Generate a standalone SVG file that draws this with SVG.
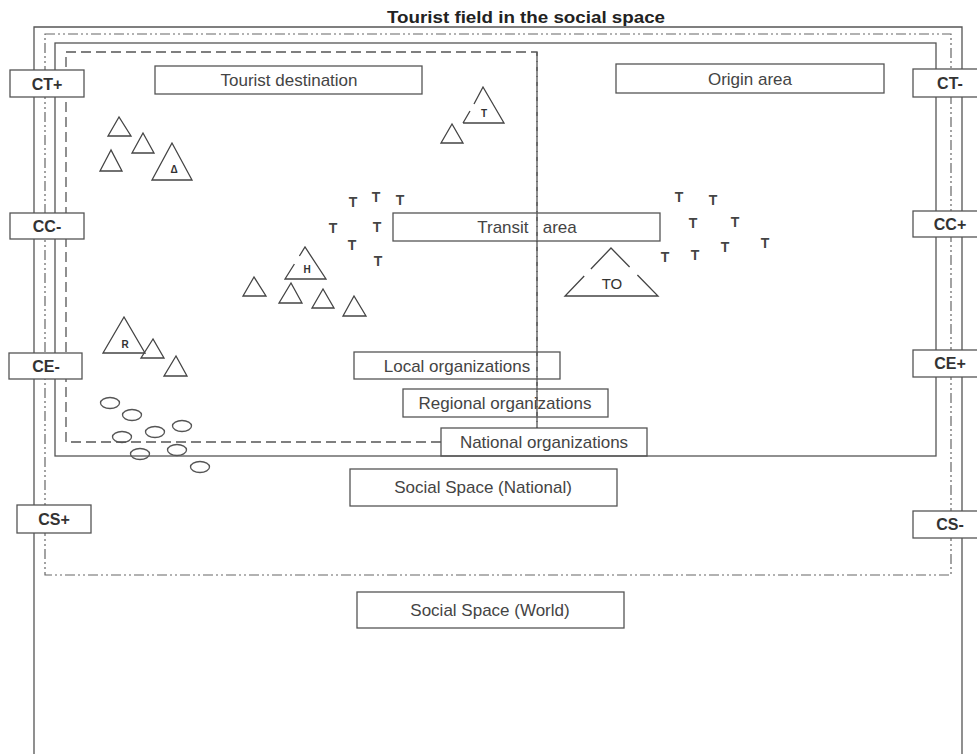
<svg xmlns="http://www.w3.org/2000/svg" width="977" height="754" viewBox="0 0 977 754">
<style>
  .frame{fill:none;stroke:#555;stroke-width:1.3}
  .dash{fill:none;stroke:#555;stroke-width:1.3;stroke-dasharray:10 5}
  .dashdot{fill:none;stroke:#666;stroke-width:1.2;stroke-dasharray:10 3 2 3 2 3}
  .box{fill:none;stroke:#555;stroke-width:1.3}
  .sbox{fill:#fff;stroke:#555;stroke-width:1.3}
  .lbl{font-family:"Liberation Sans",Arial,sans-serif;font-size:17px;fill:#444;text-anchor:middle}
  .side{font-family:"Liberation Sans",Arial,sans-serif;font-size:16px;font-weight:bold;fill:#333;text-anchor:middle}
  .tri{fill:none;stroke:#444;stroke-width:1.3;stroke-linejoin:miter}
  .ell{fill:none;stroke:#555;stroke-width:1.3}
  .t{font-family:"Liberation Sans",Arial,sans-serif;font-size:14px;font-weight:bold;fill:#444;text-anchor:middle}
  .tl{font-family:"Liberation Sans",Arial,sans-serif;font-size:10px;font-weight:bold;fill:#333;text-anchor:middle}
  .title{font-family:"Liberation Sans",Arial,sans-serif;font-size:16px;font-weight:bold;fill:#222;text-anchor:middle}
</style>
<rect width="977" height="754" fill="#fff"/>
<text class="title" x="526" y="23" textLength="278" lengthAdjust="spacingAndGlyphs">Tourist field in the social space</text>

<g id="regions">
  <path id="world" class="frame" d="M34,754 V27 H962 V754"/>
  <rect id="national-space" class="dashdot" x="45" y="34" width="906" height="541"/>
  <rect id="tourist-field" class="frame" x="55" y="43" width="881" height="413"/>
  <path id="destination-area" class="dash" d="M441,442 H66 V52 H537 V428"/>
</g>

<g id="box-tourist-destination"><rect class="box" x="155" y="66" width="267" height="28"/><text class="lbl" x="289" y="86">Tourist destination</text></g>
<g id="box-origin-area"><rect class="box" x="616" y="64" width="268" height="29"/><text class="lbl" x="750" y="85">Origin area</text></g>
<g id="box-transit-area"><rect class="box" x="393" y="213" width="267" height="28"/><text class="lbl" x="527" y="233" xml:space="preserve">Transit   area</text></g>
<g id="box-local-org"><rect class="box" x="354" y="352" width="206" height="27"/><text class="lbl" x="457" y="372">Local organizations</text></g>
<g id="box-regional-org"><rect class="box" x="403" y="389" width="205" height="28"/><text class="lbl" x="505" y="409">Regional organizations</text></g>
<g id="box-national-org"><rect class="box" x="441" y="428" width="206" height="28"/><text class="lbl" x="544" y="448">National organizations</text></g>
<g id="box-social-national"><rect class="box" x="350" y="469" width="267" height="37"/><text class="lbl" x="483" y="493">Social Space (National)</text></g>
<g id="box-social-world"><rect class="box" x="357" y="592" width="267" height="36"/><text class="lbl" x="490" y="616">Social Space (World)</text></g>

<path class="dash" d="M537,52 V428"/>

<g id="side-ct-plus"><rect class="sbox" x="10" y="70" width="74" height="27"/><text class="side" x="47" y="90">CT+</text></g>
<g id="side-cc-minus"><rect class="sbox" x="10" y="213" width="74" height="26"/><text class="side" x="47" y="232">CC-</text></g>
<g id="side-ce-minus"><rect class="sbox" x="9" y="353" width="73" height="26"/><text class="side" x="46" y="372">CE-</text></g>
<g id="side-cs-plus"><rect class="sbox" x="17" y="505" width="74" height="28"/><text class="side" x="54" y="525">CS+</text></g>
<g id="side-ct-minus"><rect class="sbox" x="913" y="69" width="75" height="28"/><text class="side" x="950" y="89">CT-</text></g>
<g id="side-cc-plus"><rect class="sbox" x="913" y="211" width="75" height="26"/><text class="side" x="950" y="230">CC+</text></g>
<g id="side-ce-plus"><rect class="sbox" x="913" y="350" width="75" height="27"/><text class="side" x="950" y="369">CE+</text></g>
<g id="side-cs-minus"><rect class="sbox" x="913" y="511" width="75" height="27"/><text class="side" x="950" y="530">CS-</text></g>

<g id="attractions">
  <path class="tri" d="M119,117 L108,136 H131 Z"/>
  <path class="tri" d="M143,133 L132,153 H154 Z"/>
  <path class="tri" d="M111,150 L100,171 H122 Z"/>
  <path class="tri" d="M172,143 L152,180 H192 Z"/>
  <text class="tl" x="174" y="173">Δ</text>
</g>
<g id="transport">
  <path class="tri" d="M463,123 H504 L483,87 L474,104 M470,111 L463,123"/>
  <text class="tl" x="484" y="117">T</text>
  <path class="tri" d="M452,124 L441,143 H463 Z"/>
</g>
<g id="hotels">
  <path class="tri" d="M294.4,264 L285,279 H326 L305,247 L299.4,256"/>
  <text class="tl" x="307" y="273">H</text>
  <path class="tri" d="M254,277 L243,296 H266 Z"/>
  <path class="tri" d="M291,283 L279,303 H302 Z"/>
  <path class="tri" d="M323,289 L312,308 H334 Z"/>
  <path class="tri" d="M354,296 L343,316 H366 Z"/>
</g>
<g id="restaurants">
  <path class="tri" d="M124,317 L103,353 H145 Z"/>
  <text class="tl" x="125" y="348">R</text>
  <path class="tri" d="M153,339 L141,358 H164 Z"/>
  <path class="tri" d="M176,356 L164,376 H187 Z"/>
</g>
<g id="tour-operator">
  <path class="tri" d="M584.2,276 L565,296 H658 L637.4,275 M629.6,267 L611,248 L590.9,269"/>
  <text class="lbl" x="612" y="289" style="font-size:15px;fill:#333">TO</text>
</g>
<g id="locals">
  <ellipse class="ell" cx="110" cy="403" rx="9.5" ry="5.5"/>
  <ellipse class="ell" cx="132" cy="415" rx="9.5" ry="5.5"/>
  <ellipse class="ell" cx="182" cy="426" rx="9.5" ry="5.5"/>
  <ellipse class="ell" cx="155" cy="432" rx="9.5" ry="5.5"/>
  <ellipse class="ell" cx="122" cy="437" rx="9.5" ry="5.5"/>
  <ellipse class="ell" cx="140" cy="454" rx="9.5" ry="5.5"/>
  <ellipse class="ell" cx="177" cy="450" rx="9.5" ry="5.5"/>
  <ellipse class="ell" cx="200" cy="467" rx="9.5" ry="5.5"/>
</g>
<g id="tourists-destination">
  <text class="t" x="353" y="207">T</text>
  <text class="t" x="376" y="202">T</text>
  <text class="t" x="400" y="205">T</text>
  <text class="t" x="333" y="233">T</text>
  <text class="t" x="377" y="232">T</text>
  <text class="t" x="352" y="250">T</text>
  <text class="t" x="378" y="266">T</text>
</g>
<g id="tourists-origin">
  <text class="t" x="679" y="202">T</text>
  <text class="t" x="713" y="205">T</text>
  <text class="t" x="693" y="228">T</text>
  <text class="t" x="735" y="227">T</text>
  <text class="t" x="765" y="248">T</text>
  <text class="t" x="725" y="252">T</text>
  <text class="t" x="695" y="260">T</text>
  <text class="t" x="665" y="262">T</text>
</g>
</svg>
